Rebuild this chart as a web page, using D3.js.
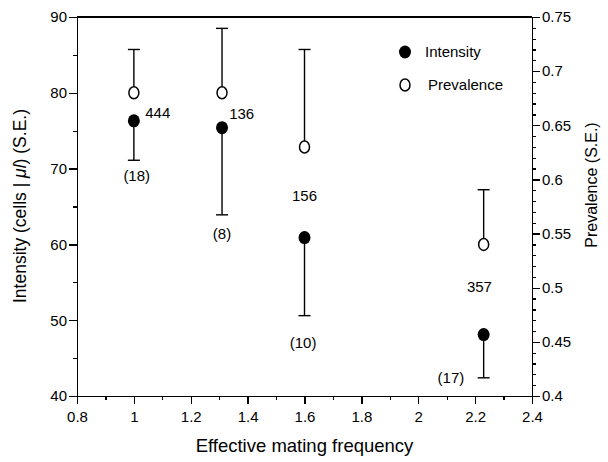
<!DOCTYPE html>
<html lang="en">
<head>
    <meta charset="UTF-8">
    <title>Intensity and prevalence vs effective mating frequency</title>
    <script src="https://d3js.org/d3.v7.min.js"></script>
    <style>
        body {
            margin: 0;
            background-color: #ffffff;
            font-family: 'Liberation Sans', Arial, sans-serif;
        }
        .axis path, .axis line {
            stroke: #000;
            stroke-width: 1.3;
            shape-rendering: crispEdges;
        }
        .axis text {
            font-size: 15px;
            fill: #000;
            font-family: 'Liberation Sans', Arial, sans-serif;
        }
        .label {
            font-size: 15px;
            fill: #000;
        }
        .title {
            font-size: 18px;
            fill: #000;
        }
    </style>
</head>
<body>
    <svg width="608" height="462" class="chart"></svg>

    <script>
        // Data
        const matingFreq = [1.0, 1.31, 1.6, 2.23];
        const intensity = [76.3, 75.4, 60.9, 48.1];
        const intensityLow = [71.1, 63.9, 50.6, 42.4];   // lower S.E. end
        const prevalence = [0.68, 0.68, 0.63, 0.54];
        const prevalenceHigh = [0.72, 0.7395, 0.72, 0.5905]; // upper S.E. end

        // annotations in data units (x, intensity axis)
        const annotations = [
            { text: "444", x: 1.04, y: 77.4, anchor: "start" },
            { text: "136", x: 1.335, y: 77.2, anchor: "start" },
            { text: "156", x: 1.6, y: 66.4, anchor: "middle" },
            { text: "357", x: 2.215, y: 54.4, anchor: "middle" },
            { text: "(18)", x: 1.01, y: 69.1, anchor: "middle" },
            { text: "(8)", x: 1.31, y: 61.4, anchor: "middle" },
            { text: "(10)", x: 1.595, y: 47.0, anchor: "middle" },
            { text: "(17)", x: 2.115, y: 42.4, anchor: "middle" }
        ];

        const xTicks = [0.8, 1, 1.2, 1.4, 1.6, 1.8, 2, 2.2, 2.4];
        const yLeftTicks = [40, 50, 60, 70, 80, 90];
        const yRightTicks = [0.4, 0.45, 0.5, 0.55, 0.6, 0.65, 0.7, 0.75];

        const svg = d3.select(".chart");
        const margin = { top: 17, right: 76, bottom: 66, left: 77 };
        const width = +svg.attr("width");
        const height = +svg.attr("height");

        const x = d3.scaleLinear().domain([0.8, 2.4]).range([margin.left, width - margin.right]);
        const yL = d3.scaleLinear().domain([40, 90]).range([height - margin.bottom, margin.top]);
        const yR = d3.scaleLinear().domain([0.4, 0.75]).range([height - margin.bottom, margin.top]);

        const bottom = height - margin.bottom;
        const right = width - margin.right;

        // minor ticks first
        svg.append("g")
            .attr("class", "axis")
            .attr("transform", `translate(0,${bottom})`)
            .call(d3.axisBottom(x).tickValues(d3.range(0.9, 2.4, 0.2)).tickSize(4).tickFormat(""))
            .select(".domain").remove();
        svg.append("g")
            .attr("class", "axis")
            .attr("transform", `translate(${margin.left},0)`)
            .call(d3.axisLeft(yL).tickValues(d3.range(45, 90, 10)).tickSize(4).tickFormat(""))
            .select(".domain").remove();
        svg.append("g")
            .attr("class", "axis")
            .attr("transform", `translate(${right},0)`)
            .call(d3.axisRight(yR).tickValues(d3.range(40, 75).map(v => v / 100)).tickSize(4).tickFormat(""))
            .select(".domain").remove();

        // major axes
        svg.append("g")
            .attr("class", "axis")
            .attr("transform", `translate(0,${bottom})`)
            .call(d3.axisBottom(x).tickValues(xTicks).tickSize(8).tickSizeOuter(0).tickPadding(7).tickFormat(d3.format("")));

        svg.append("g")
            .attr("class", "axis")
            .attr("transform", `translate(${margin.left},0)`)
            .call(d3.axisLeft(yL).tickValues(yLeftTicks).tickSize(8).tickSizeOuter(0).tickPadding(2));

        svg.append("g")
            .attr("class", "axis")
            .attr("transform", `translate(${right},0)`)
            .call(d3.axisRight(yR).tickValues(yRightTicks).tickSize(8).tickSizeOuter(0).tickPadding(2).tickFormat(d3.format("")));

        // top frame line
        svg.append("line")
            .attr("x1", margin.left).attr("x2", right)
            .attr("y1", margin.top).attr("y2", margin.top)
            .attr("stroke", "#000").attr("stroke-width", 1.3)
            .attr("shape-rendering", "crispEdges");

        // error bars
        const capW = 6;
        const errG = svg.append("g").attr("stroke", "#000").attr("stroke-width", 1.4);
        matingFreq.forEach((f, i) => {
            const cx = x(f);
            // intensity: downward
            errG.append("line").attr("x1", cx).attr("x2", cx)
                .attr("y1", yL(intensity[i])).attr("y2", yL(intensityLow[i]));
            errG.append("line").attr("x1", cx - capW).attr("x2", cx + capW)
                .attr("y1", yL(intensityLow[i])).attr("y2", yL(intensityLow[i]));
            // prevalence: upward
            errG.append("line").attr("x1", cx).attr("x2", cx)
                .attr("y1", yR(prevalence[i])).attr("y2", yR(prevalenceHigh[i]));
            errG.append("line").attr("x1", cx - capW).attr("x2", cx + capW)
                .attr("y1", yR(prevalenceHigh[i])).attr("y2", yR(prevalenceHigh[i]));
        });

        // points
        svg.selectAll(".intensity")
            .data(matingFreq)
            .enter()
            .append("ellipse")
            .attr("class", "intensity")
            .attr("cx", d => x(d))
            .attr("cy", (d, i) => yL(intensity[i]))
            .attr("rx", 6).attr("ry", 6.5)
            .attr("fill", "#000");

        svg.selectAll(".prevalence")
            .data(matingFreq)
            .enter()
            .append("ellipse")
            .attr("class", "prevalence")
            .attr("cx", d => x(d))
            .attr("cy", (d, i) => yR(prevalence[i]))
            .attr("rx", 5).attr("ry", 6)
            .attr("fill", "#fff")
            .attr("stroke", "#000")
            .attr("stroke-width", 1.5);

        // annotations
        svg.selectAll(".label")
            .data(annotations)
            .enter()
            .append("text")
            .attr("class", "label")
            .attr("x", d => x(d.x))
            .attr("y", d => yL(d.y))
            .attr("dy", "0.35em")
            .attr("text-anchor", d => d.anchor)
            .text(d => d.text);

        // legend
        const legend = svg.append("g").attr("transform", "translate(405,52)");
        legend.append("ellipse").attr("cx", 0).attr("cy", 0).attr("rx", 6).attr("ry", 6.5).attr("fill", "#000");
        legend.append("text").attr("class", "label").attr("x", 20).attr("dy", "0.35em").text("Intensity");
        legend.append("ellipse").attr("cx", 0).attr("cy", 33).attr("rx", 5).attr("ry", 6)
            .attr("fill", "#fff").attr("stroke", "#000").attr("stroke-width", 1.5);
        legend.append("text").attr("class", "label").attr("x", 23).attr("y", 33).attr("dy", "0.35em").text("Prevalence");

        // axis titles
        svg.append("text")
            .attr("class", "title")
            .attr("text-anchor", "middle")
            .style("font-size", "18.5px")
            .attr("x", (margin.left + right) / 2)
            .attr("y", 452)
            .text("Effective mating frequency");

        const leftTitle = svg.append("text")
            .attr("class", "title")
            .attr("text-anchor", "middle")
            .style("font-size", "17.5px")
            .attr("transform", `translate(26,206) rotate(-90)`);
        leftTitle.append("tspan").text("Intensity  (cells | ");
        leftTitle.append("tspan").attr("font-style", "italic").text("μl");
        leftTitle.append("tspan").text(") (S.E.)");

        svg.append("text")
            .attr("class", "title")
            .attr("text-anchor", "middle")
            .style("font-size", "16px")
            .attr("transform", `translate(597,185) rotate(-90)`)
            .text("Prevalence (S.E.)");
    </script>
</body>
</html>
